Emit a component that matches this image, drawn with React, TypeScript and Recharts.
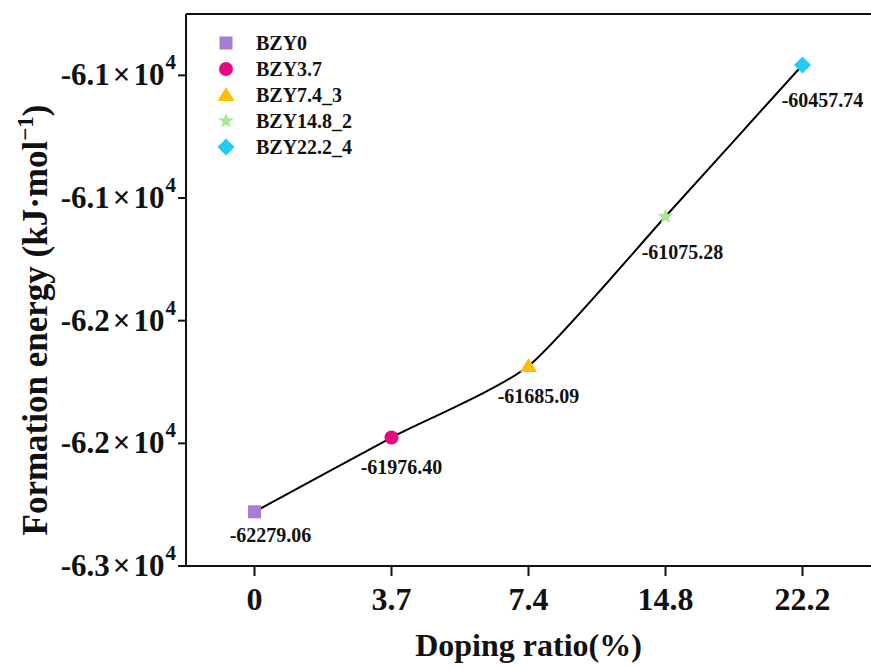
import React from 'react'
import { LineChart, Line, XAxis, YAxis, LabelList, ReferenceLine } from 'recharts'

const FONT = '"Liberation Serif", "Times New Roman", serif'

const dopingRatios = ['0', '3.7', '7.4', '14.8', '22.2']
const sampleNames = ['BZY0', 'BZY3.7', 'BZY7.4_3', 'BZY14.8_2', 'BZY22.2_4']
const formationEnergy = [-62279.06, -61976.4, -61685.09, -61075.28, -60457.74]
const markerShapes = ['square', 'circle', 'triangle', 'star', 'diamond']
const markerColors = ['#a47fd3', '#e8087f', '#ffbf00', '#a8e88f', '#1fcdf3']
const yTicks = [-62500, -62000, -61500, -61000, -60500]
const yDomain = [-62500, -60250]

const CHART_W = 871
const CHART_H = 670
const MARGIN_TOP = 13
const Y_AXIS_W = 186

// label offset from its point (dx, dy to baseline)
const labelOffsets = [[16, 30], [10, 36], [10, 37], [17, 43], [20, 42]]

const data = dopingRatios.map((ratio, i) => ({
  idx: i,
  ratio,
  name: sampleNames[i],
  energy: formationEnergy[i],
}))

// cardinal spline with adjustable tension, used as a d3-style curve factory
const cardinal = (tension: number) => (context: any) => {
  let pts: number[][] = []
  const k = (1 - tension) / 6
  return {
    areaStart() {},
    areaEnd() {},
    lineStart() {
      pts = []
    },
    point(x: number, y: number) {
      pts.push([+x, +y])
    },
    lineEnd() {
      const n = pts.length
      if (!n) return
      context.moveTo(pts[0][0], pts[0][1])
      for (let i = 0; i < n - 1; i++) {
        const p0 = pts[Math.max(i - 1, 0)]
        const p1 = pts[i]
        const p2 = pts[i + 1]
        const p3 = pts[Math.min(i + 2, n - 1)]
        context.bezierCurveTo(
          p1[0] + (p2[0] - p0[0]) * k,
          p1[1] + (p2[1] - p0[1]) * k,
          p2[0] - (p3[0] - p1[0]) * k,
          p2[1] - (p3[1] - p1[1]) * k,
          p2[0],
          p2[1]
        )
      }
    },
  }
}

const starPoints = (cx: number, cy: number, outer: number, inner: number) => {
  const pts: string[] = []
  for (let k = 0; k < 10; k++) {
    const r = k % 2 === 0 ? outer : inner
    const a = -Math.PI / 2 + (k * Math.PI) / 5
    pts.push(`${cx + r * Math.cos(a)},${cy + r * Math.sin(a)}`)
  }
  return pts.join(' ')
}

const Marker = ({ shape, cx, cy, color }: { shape: string; cx: number; cy: number; color: string }) => {
  switch (shape) {
    case 'square':
      return <rect x={cx - 6.5} y={cy - 6.5} width={13} height={13} fill={color} />
    case 'circle':
      return <circle cx={cx} cy={cy} r={7} fill={color} />
    case 'triangle':
      return <polygon points={`${cx},${cy - 8} ${cx + 8.5},${cy + 6} ${cx - 8.5},${cy + 6}`} fill={color} />
    case 'star':
      return <polygon points={starPoints(cx, cy, 8, 3.4)} fill={color} />
    default:
      return <polygon points={`${cx},${cy - 8.5} ${cx + 8.5},${cy} ${cx},${cy + 8.5} ${cx - 8.5},${cy}`} fill={color} />
  }
}

const Dot = (props: any) => {
  const { cx, cy, index } = props
  return (
    <g key={`dot-${index}`}>
      <Marker shape={markerShapes[index]} cx={cx} cy={cy} color={markerColors[index]} />
    </g>
  )
}

const ValueLabel = (props: any) => {
  const { x, y, value, index } = props
  const [dx, dy] = labelOffsets[index]
  return (
    <text x={x + dx} y={y + dy} textAnchor="middle" fontFamily={FONT} fontWeight="bold" fontSize={20} fill="#111">
      {Number(value).toFixed(2)}
    </text>
  )
}

const YTick = ({ x, y, payload }: any) => {
  const mant = (Math.round(Math.abs(payload.value) / 1000) / 10).toFixed(1)
  return (
    <text x={x} y={y + 10} textAnchor="end" fontFamily={FONT} fontWeight="bold" fontSize={31} fill="#111">
      <tspan>-{mant}</tspan>
      <tspan dx={3}>×</tspan>
      <tspan dx={3}>10</tspan>
      <tspan dx={1} dy={-16} fontSize={21}>4</tspan>
    </text>
  )
}

// sample legend, laid over the upper left of the plot
const LegendBox = () => (
  <div
    style={{
      position: 'absolute',
      left: 216,
      top: 30,
      fontFamily: FONT,
      fontWeight: 'bold',
      fontSize: 20,
      color: '#111',
    }}
  >
    {sampleNames.map((n, i) => (
      <div key={n} style={{ display: 'flex', alignItems: 'center', height: 26 }}>
        <svg width={20} height={20}>
          <Marker shape={markerShapes[i]} cx={10} cy={10} color={markerColors[i]} />
        </svg>
        <span style={{ marginLeft: 20 }}>{n}</span>
      </div>
    ))}
  </div>
)

// top edge of the plot frame
const TopFrame = () => (
  <div
    style={{
      position: 'absolute',
      left: Y_AXIS_W,
      top: MARGIN_TOP,
      width: CHART_W - Y_AXIS_W,
      height: 0,
      borderTop: '2px solid #111',
    }}
  />
)

export default function App() {
  return (
    <div style={{ position: 'absolute', left: 0, top: 0, width: CHART_W, height: CHART_H, background: '#fff' }}>
      <LineChart width={CHART_W} height={CHART_H} data={data} margin={{ top: MARGIN_TOP, right: 0, left: 0, bottom: 0 }}>
        <XAxis
          dataKey="idx"
          type="number"
          domain={[-0.5, 4.5]}
          ticks={[0, 1, 2, 3, 4]}
          tickFormatter={(i: number) => dopingRatios[i]}
          height={104}
          tickSize={10}
          tickMargin={11}
          stroke="#111"
          strokeWidth={2}
          tick={{ fontSize: 32, fontWeight: 'bold', fontFamily: FONT, fill: '#111' }}
          label={{
            content: (p: any) => (
              <text
                x={p.viewBox.x + p.viewBox.width / 2}
                y={p.viewBox.y + 90}
                textAnchor="middle"
                fontFamily={FONT}
                fontWeight="bold"
                fontSize={32}
                fill="#111"
              >
                Doping ratio(%)
              </text>
            ),
          }}
        />
        <XAxis
          xAxisId="top"
          dataKey="idx"
          type="number"
          domain={[-0.5, 4.5]}
          orientation="top"
          height={1}
          tick={{ fill: 'none' }}
          tickLine={false}
          stroke="#111"
          strokeWidth={2}
        />
        <YAxis
          type="number"
          domain={yDomain}
          ticks={yTicks}
          allowDataOverflow
          width={Y_AXIS_W}
          tickSize={8}
          tickMargin={2}
          stroke="#111"
          strokeWidth={2}
          tick={<YTick />}
          label={{
            content: () => (
              <text
                transform="translate(47, 320) rotate(-90)"
                textAnchor="middle"
                fontFamily={FONT}
                fontWeight="bold"
                fontSize={35}
                fill="#111"
              >
                Formation energy (kJ·mol
                <tspan dy={-14} fontSize={23}>−1</tspan>
                <tspan dy={14}>)</tspan>
              </text>
            ),
          }}
        />
        <ReferenceLine y={yDomain[1]} stroke="#111" strokeWidth={2} />
        <Line
          type={cardinal(0.4) as any}
          dataKey="energy"
          stroke="#000"
          strokeWidth={2}
          dot={<Dot />}
          activeDot={false}
          isAnimationActive={false}
        >
          <LabelList dataKey="energy" content={<ValueLabel />} />
        </Line>
      </LineChart>
      <TopFrame />
      <LegendBox />
    </div>
  )
}
